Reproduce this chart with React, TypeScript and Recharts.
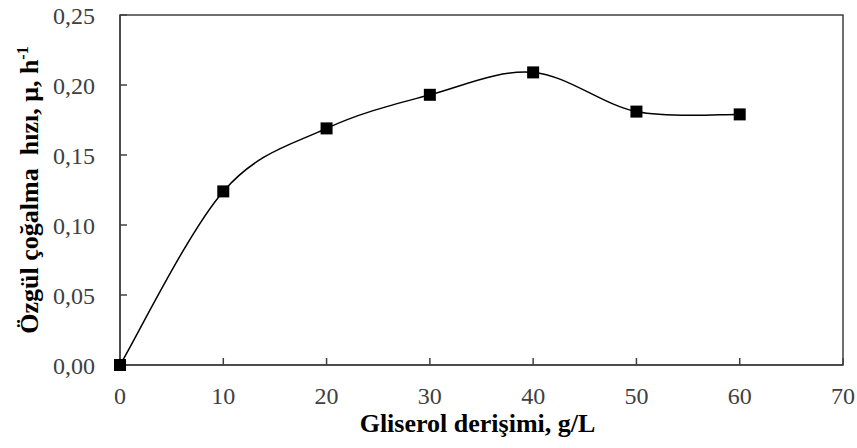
import { LineChart, Line, XAxis, YAxis, ReferenceArea } from 'recharts'

const glycerol = [0, 10, 20, 30, 40, 50, 60]
const growthRate = [0, 0.124, 0.169, 0.193, 0.209, 0.181, 0.179]
const xTicks = [0, 10, 20, 30, 40, 50, 60, 70]
const yTicks = [0, 0.05, 0.1, 0.15, 0.2, 0.25]

const data = glycerol.map((g, i) => ({ g, mu: growthRate[i] }))

const serif = '"Liberation Serif", "Times New Roman", serif'
const axisColor = '#404040'

// Excel-like smoothed line (Catmull-Rom through the points)
const excelSmooth = (context: any) => {
  let pts: number[][] = []
  return {
    areaStart() {},
    areaEnd() {},
    lineStart() {
      pts = []
    },
    point(x: number, y: number) {
      pts.push([+x, +y])
    },
    lineEnd() {
      if (!pts.length) return
      context.moveTo(pts[0][0], pts[0][1])
      for (let i = 0; i < pts.length - 1; i++) {
        const p0 = pts[Math.max(i - 1, 0)]
        const p1 = pts[i]
        const p2 = pts[i + 1]
        const p3 = pts[Math.min(i + 2, pts.length - 1)]
        context.bezierCurveTo(
          p1[0] + (p2[0] - p0[0]) / 6,
          p1[1] + (p2[1] - p0[1]) / 6,
          p2[0] - (p3[0] - p1[0]) / 6,
          p2[1] - (p3[1] - p1[1]) / 6,
          p2[0],
          p2[1]
        )
      }
    },
  }
}

const SquareDot = (props: any) => {
  const { cx, cy, index } = props
  return <rect key={`sq-${index}`} x={cx - 6} y={cy - 6} width={12} height={12} fill="#000" />
}

const YTitle = (props: any) => {
  const vb = props.viewBox || { y: 15, height: 350 }
  const cy = vb.y + vb.height / 2
  return (
    <text
      x={38}
      y={cy}
      transform={`rotate(-90, 38, ${cy})`}
      textAnchor="middle"
      fontFamily={serif}
      fontWeight="bold"
      fontSize={26}
      fill="#000"
      style={{ whiteSpace: 'pre' }}
    >
      {'Özgül çoğalma  hızı, μ, h'}
      <tspan dy={-10} fontSize={16}>-1</tspan>
    </text>
  )
}

const XTitle = (props: any) => {
  const vb = props.viewBox || { x: 120, width: 723 }
  return (
    <text
      x={vb.x + vb.width / 2 - 4}
      y={432}
      textAnchor="middle"
      fontFamily={serif}
      fontWeight="bold"
      fontSize={26}
      fill="#000"
    >
      Gliserol derişimi, g/L
    </text>
  )
}

export default function App() {
  return (
    <div style={{ position: 'absolute', left: 0, top: 0, background: '#fff' }}>
      <LineChart width={857} height={448} data={data} margin={{ top: 15, right: 14, bottom: 0, left: 0 }}>
        <ReferenceArea x1={0} x2={70} y1={0} y2={0.25} fill="none" stroke={axisColor} strokeWidth={1.5} />
        <XAxis
          dataKey="g"
          type="number"
          domain={[0, 70]}
          ticks={xTicks}
          height={83}
          tickSize={-7}
          tickMargin={29}
          stroke={axisColor}
          strokeWidth={1.5}
          tick={{ fill: axisColor, fontSize: 24, fontFamily: serif }}
          label={<XTitle />}
        />
        <YAxis
          type="number"
          domain={[0, 0.25]}
          ticks={yTicks}
          width={120}
          tickSize={-7}
          tickMargin={32}
          stroke={axisColor}
          strokeWidth={1.5}
          tick={{ fill: axisColor, fontSize: 24, fontFamily: serif }}
          tickFormatter={(v: number) => v.toFixed(2).replace('.', ',')}
          label={<YTitle />}
        />
        <Line
          dataKey="mu"
          type={excelSmooth as any}
          stroke="#000"
          strokeWidth={1.5}
          dot={SquareDot}
          activeDot={false}
          isAnimationActive={false}
        />
      </LineChart>
    </div>
  )
}
